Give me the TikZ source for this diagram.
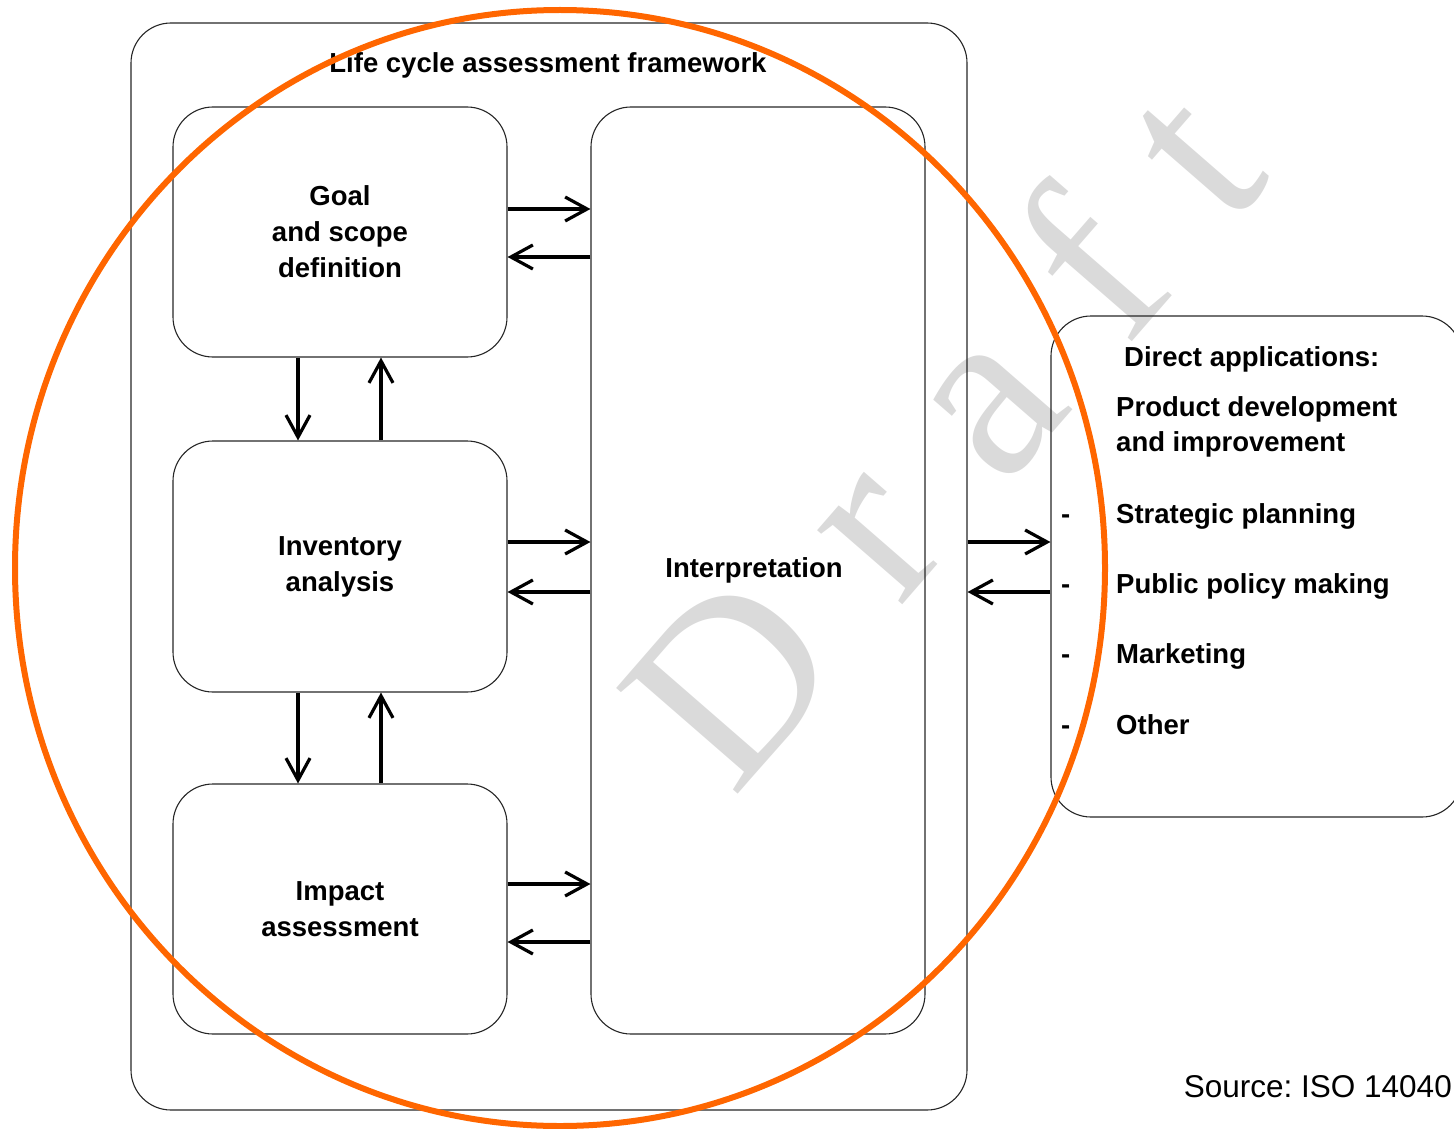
\documentclass[tikz,border=0pt]{standalone}
\usepackage{fontspec}
\setmainfont{Liberation Sans}
\newfontfamily\wmfont{Liberation Serif}
\usetikzlibrary{arrows.meta}
\definecolor{ring}{RGB}{255,102,0}
\definecolor{wmgray}{RGB}{218,218,218}
\newcommand\lblfont{\fontsize{27.5pt}{36pt}\selectfont\bfseries}
\frenchspacing

\begin{document}
\begin{tikzpicture}[x=1pt,y=-1pt,
  frame/.style={draw=black!85,line width=1.1pt,rounded corners=40pt,inner sep=0pt},
  stage/.style={frame,minimum width=334pt,align=center,font=\lblfont},
  lbl/.style={inner sep=0pt,font=\lblfont,anchor=base west},
  arr/.style={line width=3.2pt,-{Straight Barb[length=22pt,width=24pt]}},
]
\useasboundingbox (0,0) rectangle (1454,1129);
\clip (0,0) rectangle (1454,1129);

% watermark
\node[wmgray,inner sep=0pt,anchor=base west,rotate=49,
  font=\wmfont\fontsize{246pt}{246pt}\selectfont] (wm) at (733,800)
  {D\hspace{0.31em}r\hspace{0.31em}a\hspace{0.31em}f\hspace{0.31em}t};

% framework and its stages
\node[frame,minimum width=836pt,minimum height=1087pt] (outer) at (549,566.5) {};
\node[lbl,anchor=base] (title) at (548,73) {Life cycle assessment framework};
\node[stage,minimum height=250pt] (goal) at (340,232) {Goal\\and scope\\definition};
\node[stage,minimum height=251pt] (inv) at (340,566.5) {Inventory\\analysis};
\node[stage,minimum height=250pt] (imp) at (340,909) {Impact\\assessment};
\node[stage,minimum height=927pt] (interp) at (758,570.5) {Interpretation\hspace*{8pt}};

% applications
\node[frame,minimum width=411pt,minimum height=501pt] (apps) at (1256.5,566.5) {};
\node[lbl] (appt) at (1124,366) {Direct applications:};
\node[lbl] (prod1) at (1116,416) {Product development};
\node[lbl] (prod2) at (1116,451) {and improvement};
\node[lbl] (d1) at (1061,523) {-};
\node[lbl] (i1) at (1116,523) {Strategic planning};
\node[lbl] (d2) at (1061,593) {-};
\node[lbl] (i2) at (1116,593) {Public policy making};
\node[lbl] (d3) at (1061,663) {-};
\node[lbl] (i3) at (1116,663) {Marketing};
\node[lbl] (d4) at (1061,734) {-};
\node[lbl] (i4) at (1116,734) {Other};

\node[inner sep=0pt,anchor=base east,font=\fontsize{31.5pt}{36pt}\selectfont] (src) at (1452,1097) {Source: ISO 14040};

% horizontal links to the interpretation phase
\coordinate (gr) at ([yshift=23pt]goal.east);
\coordinate (gl) at ([yshift=-25pt]goal.east);
\coordinate (ir) at ([yshift=24.5pt]inv.east);
\coordinate (il) at ([yshift=-25.5pt]inv.east);
\coordinate (mr) at ([yshift=25pt]imp.east);
\coordinate (ml) at ([yshift=-33pt]imp.east);
\draw[arr] (gr) -- (gr -| interp.west);
\draw[arr] (gl -| interp.west) -- (gl);
\draw[arr] (ir) -- (ir -| interp.west);
\draw[arr] (il -| interp.west) -- (il);
\draw[arr] (mr) -- (mr -| interp.west);
\draw[arr] (ml -| interp.west) -- (ml);

% vertical links between stages
\coordinate (gd) at ([xshift=-42pt]goal.south);
\coordinate (gu) at ([xshift=41pt]goal.south);
\coordinate (id) at ([xshift=-42pt]inv.south);
\coordinate (iu) at ([xshift=41pt]inv.south);
\draw[arr] (gd) -- (gd |- inv.north);
\draw[arr] (gu |- inv.north) -- (gu);
\draw[arr] (id) -- (id |- imp.north);
\draw[arr] (iu |- imp.north) -- (iu);

% links between framework and applications
\coordinate (ar) at ([yshift=24.5pt]apps.west);
\coordinate (al) at ([yshift=-25.5pt]apps.west);
\draw[arr] (ar -| outer.east) -- (ar);
\draw[arr] (al) -- (al -| outer.east);

% orange ring on top
\draw[ring,line width=6pt] (560,568) ellipse [x radius=545pt, y radius=558pt];
\end{tikzpicture}
\end{document}
